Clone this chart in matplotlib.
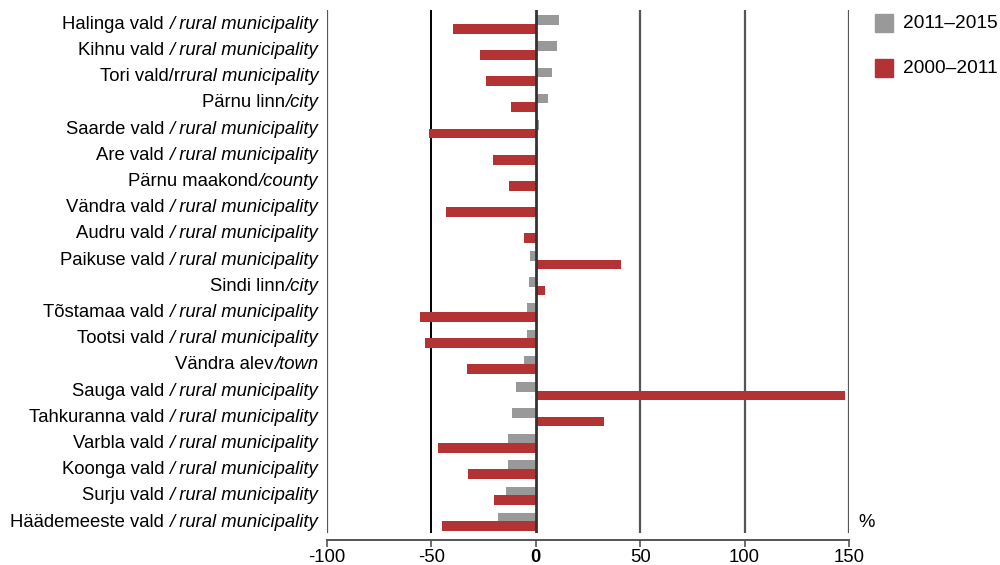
import numpy as np
import matplotlib.pyplot as plt
from matplotlib.patches import Rectangle

plt.rcParams['font.family'] = ['Liberation Sans', 'DejaVu Sans']

# Data
names = ['Halinga vald ', 'Kihnu vald ', 'Tori vald/r', 'Pärnu linn', 'Saarde vald ',
         'Are vald ', 'Pärnu maakond', 'Vändra vald ', 'Audru vald ', 'Paikuse vald ',
         'Sindi linn', 'Tõstamaa vald ', 'Tootsi vald ', 'Vändra alev', 'Sauga vald ',
         'Tahkuranna vald ', 'Varbla vald ', 'Koonga vald ', 'Surju vald ', 'Häädemeeste vald ']
names_it = ['/ rural municipality', '/ rural municipality', 'rural municipality', '/city',
            '/ rural municipality', '/ rural municipality', '/county', '/ rural municipality',
            '/ rural municipality', '/ rural municipality', '/city', '/ rural municipality',
            '/ rural municipality', '/town', '/ rural municipality', '/ rural municipality',
            '/ rural municipality', '/ rural municipality', '/ rural municipality',
            '/ rural municipality']
change_2011_2015 = [11, 10, 7.6, 5.7, 1.4, 1, 1, 0.3, 0.2, -2.9,
                    -3.3, -4.3, -4.3, -5.8, -9.6, -11.5, -13.4, -13.4, -14.3, -18.2]
change_2000_2011 = [-39.6, -26.8, -23.9, -12, -51, -20.5, -12.9, -43, -5.8, 41,
                    4.3, -55.4, -53, -33, 148, 32.5, -46.8, -32.5, -20, -45]
xticks = [-100, -50, 0, 50, 100, 150]

grey = '#999999'
red = '#b33234'
fs = 13.3

fig = plt.figure(figsize=(10, 5.65), dpi=100)
ax = fig.add_axes([0.327, 1 - 533 / 565, 0.522, 523 / 565])

y = np.arange(len(names))
ax.barh(y - 0.165, change_2011_2015, height=0.37, color=grey, zorder=3)
ax.barh(y + 0.165, change_2000_2011, height=0.37, color=red, zorder=3)

ax.set_xlim(-100, 150)
ax.set_ylim(len(names) - 0.58, -0.55)

for v in [-100, 50, 100, 150]:
    ax.axvline(v, color='#555555', lw=1.6, zorder=1)
ax.axvline(-50, color='black', lw=1.4, zorder=1)
ax.axvline(0, color='#333333', lw=2, zorder=4)

for s in ['top', 'right', 'left']:
    ax.spines[s].set_visible(False)
ax.spines['bottom'].set_position(('outward', 5))
ax.spines['bottom'].set_color('#555555')
ax.spines['bottom'].set_linewidth(1.4)
ax.set_xticks(xticks)
ax.set_xticklabels([str(t) for t in xticks], fontsize=fs)
ax.get_xticklabels()[2].set_fontweight('bold')
ax.tick_params(axis='x', length=5, width=1.2, color='#555555', pad=1.5)
ax.set_yticks([])

# Category labels: regular part + italic part
fig.canvas.draw()
renderer = fig.canvas.get_renderer()
for i in range(len(names)):
    t = ax.annotate(names_it[i], xy=(0, i), xycoords=('axes fraction', 'data'),
                    xytext=(-9, 0), textcoords='offset pixels',
                    ha='right', va='center', fontsize=fs, style='italic')
    w = t.get_window_extent(renderer).width
    ax.annotate(names[i], xy=(0, i), xycoords=('axes fraction', 'data'),
                xytext=(-9 - w, 0), textcoords='offset pixels',
                ha='right', va='center', fontsize=fs)

ax.annotate('%', xy=(1, len(names) - 1), xycoords=('axes fraction', 'data'),
            xytext=(9, 0), textcoords='offset pixels', ha='left', va='center', fontsize=fs)

# Legend
fig.patches.append(Rectangle((875 / 1000, 1 - 32 / 565), 18 / 1000, 18 / 565,
                             transform=fig.transFigure, color=grey))
fig.patches.append(Rectangle((875 / 1000, 1 - 77 / 565), 18 / 1000, 18 / 565,
                             transform=fig.transFigure, color=red))
fig.text(903 / 1000, 1 - 23 / 565, '2011–2015', fontsize=13.8, va='center')
fig.text(903 / 1000, 1 - 68 / 565, '2000–2011', fontsize=13.8, va='center')

fig.savefig('out.png', dpi=100)
